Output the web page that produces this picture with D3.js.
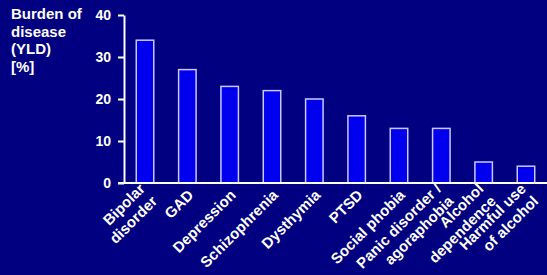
<!DOCTYPE html>
<html>
<head>
<meta charset="utf-8">
<script src="https://cdn.jsdelivr.net/npm/d3@7/dist/d3.min.js"></script>
<style>
html,body{margin:0;padding:0;background:#000080;}
svg{display:block;}
text{font-family:"Liberation Sans",Arial,sans-serif;font-weight:bold;fill:#fff;}
</style>
</head>
<body>
<svg id="chart" width="547" height="275"></svg>
<script>
const categories = [
  ["Bipolar","disorder"],
  ["GAD"],
  ["Depression"],
  ["Schizophrenia"],
  ["Dysthymia"],
  ["PTSD"],
  ["Social phobia"],
  ["Panic disorder /","agoraphobia"],
  ["Alcohol","dependence"],
  ["Harmful use","of alcohol"]
];
const values = [34, 27, 23, 22, 20, 16, 13, 13, 5, 4];
const yTicks = [0, 10, 20, 30, 40];
const titleLines = ["Burden of","disease","(YLD)","[%]"];

const svg = d3.select("#chart");
const W = 547, H = 275;
const x0 = 124, yTop = 15, yBase = 183;

const keys = categories.map(d => d.join(" "));
const x = d3.scaleBand().domain(keys).range([x0, W]).paddingInner(0.587).paddingOuter(0.29);
const y = d3.scaleLinear().domain([0, 40]).range([yBase, yTop]);

// bars
svg.append("g").selectAll("rect").data(values).join("rect")
  .attr("x", (d,i) => x(keys[i]))
  .attr("y", d => y(d))
  .attr("width", x.bandwidth())
  .attr("height", d => y(0) - y(d))
  .attr("fill", "#0000ee")
  .attr("stroke", "#c8c8ff")
  .attr("stroke-width", 1.5);

// y axis
const yAxis = d3.axisLeft(y).tickValues(yTicks).tickSize(6).tickPadding(7).tickSizeOuter(0);
const gy = svg.append("g").attr("transform", `translate(${x0},0)`).call(yAxis);
gy.select(".domain").attr("stroke", "#fff").attr("stroke-width", 2);
gy.selectAll(".tick line").attr("stroke", "#fff").attr("stroke-width", 2);
gy.selectAll(".tick text").attr("font-size", 14).attr("fill", "#fff")
  .attr("font-family", "Liberation Sans, Arial, sans-serif").attr("font-weight", "bold");

// x axis baseline
svg.append("line").attr("x1", x0 - 6).attr("x2", W).attr("y1", y(0)).attr("y2", y(0))
  .attr("stroke", "#fff").attr("stroke-width", 2);

// x labels
const lh = 17.5;
const lbl = svg.append("g").selectAll("g").data(categories).join("g")
  .attr("transform", (d,i) => `translate(${x(keys[i]) + x.bandwidth()/2 + 7},${yBase + 13}) rotate(-45)`);
lbl.each(function(lines){
  const g = d3.select(this);
  const n = lines.length;
  lines.forEach((t, j) => {
    g.append("text").attr("text-anchor", "end").attr("font-size", 15)
      .attr("y", (j - (n-1)/2) * lh).text(t);
  });
});

// title
svg.append("g").selectAll("text").data(titleLines).join("text")
  .attr("x", 11).attr("y", (d,i) => 19 + i*17.5)
  .attr("font-size", 15).text(d => d);
</script>
</body>
</html>
